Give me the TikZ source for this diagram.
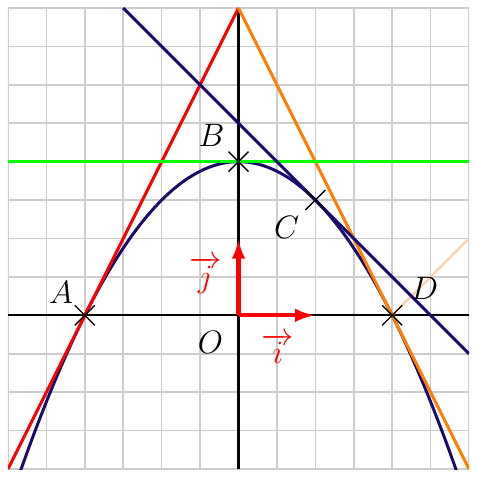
\documentclass[tikz,border=0pt]{standalone}
\usetikzlibrary{arrows.meta}
\definecolor{navy}{RGB}{25,10,110}
\definecolor{peach}{RGB}{255,205,160}
\definecolor{gridgray}{RGB}{205,205,205}
\tikzset{
  gridline/.style={gridgray, line width=0.6pt},
  axis/.style={black, line width=0.8pt},
  curveline/.style={line width=1.1pt},
  vecarrow/.style={red, line width=1.5pt, -{Latex[length=7.5pt,width=5pt]}},
  crossmark/.style={black, line width=0.5pt},
  ptlabel/.style={font=\large, inner sep=0pt},
  veclabel/.style={font=\large, red, inner sep=0pt}
}
\begin{document}
\begin{tikzpicture}
\useasboundingbox (-3.104,-2.104) rectangle (3.104,4.104);
\begin{scope}
\clip (-3,-2) rectangle (3,4);
\draw[gridline] (-3,-2) grid[step=0.5] (3,4);
\draw[axis] (-3,0) -- (3,0);
\draw[axis] (0,-2) -- (0,4);
\draw[curveline, navy] plot[domain=-2.95:2.95, samples=120, smooth] (\x,{2-0.5*\x*\x});
\coordinate (A) at (-2,0);
\coordinate (B) at (0,2);
\coordinate (C) at (1,1.5);
\coordinate (D) at (2,0);
\coordinate (O) at (0,0);
\coordinate (P) at (3,1);
\draw[peach, line width=0.7pt] (D) -- (P);
\draw[curveline, red] (-3,-2) -- (0,4);
\draw[curveline, orange] (0,4) -- (3,-2);
\draw[curveline, green] (-3,2) -- (3,2);
\draw[curveline, navy] (-1.5,4) -- (3,-0.5);
\foreach \p in {A,B,C,D}{
  \draw[crossmark] ([shift={(-0.13,-0.13)}]\p) -- ([shift={(0.13,0.13)}]\p);
  \draw[crossmark] ([shift={(-0.13,0.13)}]\p) -- ([shift={(0.13,-0.13)}]\p);
}
\end{scope}
\coordinate (I) at (1,0);
\coordinate (J) at (0,1);
\draw[vecarrow] (O) -- (I);
\draw[vecarrow] (O) -- (J);
\node[ptlabel] (lA) at (-2.31,0.30) {$A$};
\node[ptlabel] (lB) at (-0.35,2.34) {$B$};
\node[ptlabel] (lC) at (0.625,1.146) {$C$};
\node[ptlabel] (lD) at (2.42,0.35) {$D$};
\node[ptlabel] (lO) at (-0.365,-0.35) {$O$};
\node[veclabel] (li) at (0.51,-0.43) {$\overrightarrow{i}$};
\node[veclabel] (lj) at (-0.43,0.52) {$\overrightarrow{j}$};
\end{tikzpicture}
\end{document}
